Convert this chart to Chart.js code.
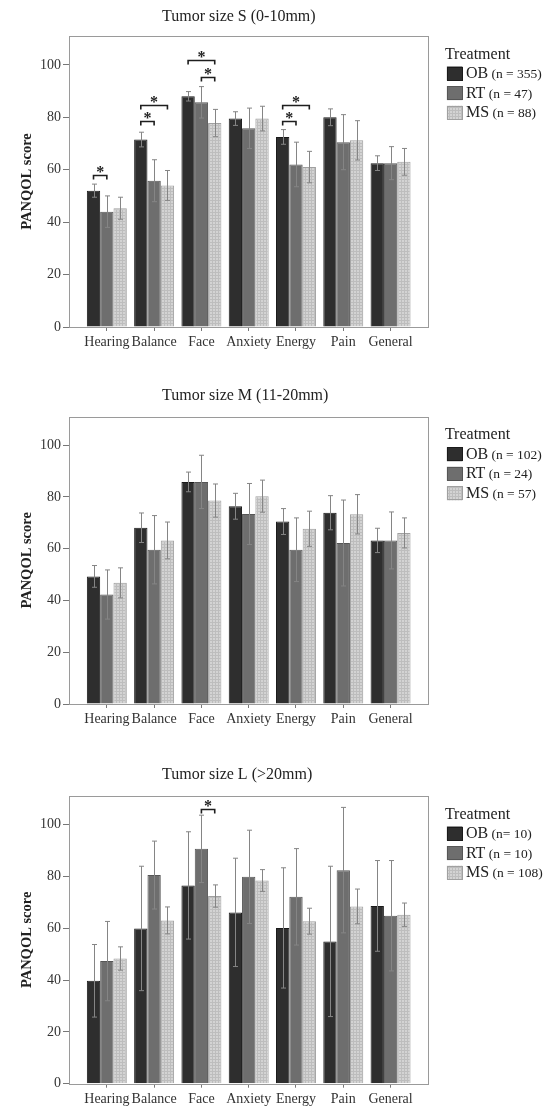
<!DOCTYPE html>
<html><head><meta charset="utf-8">
<script src="https://cdn.jsdelivr.net/npm/chart.js@4/dist/chart.umd.min.js"></script>
<style>
html,body{margin:0;padding:0;background:#fff;}
#wrap{position:relative;width:547px;height:1108px;overflow:hidden;}
canvas{position:absolute;left:0;}
</style></head><body>
<div id="wrap">
<canvas id="cS" width="547" height="360" style="top:0px"></canvas>
<canvas id="cM" width="547" height="360" style="top:380px"></canvas>
<canvas id="cL" width="547" height="348" style="top:760px"></canvas>
</div>
<script>
// ---------- data ----------
const categories = ['Hearing', 'Balance', 'Face', 'Anxiety', 'Energy', 'Pain', 'General'];
const seriesNames = ['OB', 'RT', 'MS'];
const yTicks = [0, 20, 40, 60, 80, 100];

// Tumor size S (0-10mm)
const titleS = 'Tumor size S (0-10mm)';
const nS = ['(n = 355)', '(n = 47)', '(n = 88)'];
const obS = [52, 71.5, 88, 79.5, 72.5, 80, 62.5];
const obSErr = [2.5, 2.8, 1.8, 2.6, 2.8, 3.2, 2.8];
const rtS = [44, 55.8, 85.7, 75.8, 62, 70.5, 62.5];
const rtSErr = [6, 8, 6, 7.7, 8.5, 10.5, 6.3];
const msS = [45.3, 54, 77.8, 79.5, 61, 71.2, 63];
const msSErr = [4.2, 5.7, 5.2, 4.7, 6, 7.5, 5.1];
// significance brackets: [category index, series a, series b, bracket height]
const sigS = [[0, 0, 1, 57.9], [1, 0, 1, 78.5], [1, 0, 2, 84.8], [2, 0, 2, 101.9], [2, 1, 2, 95.5], [4, 0, 1, 78.5], [4, 0, 2, 84.8]];

// Tumor size M (11-20mm)
const titleM = 'Tumor size M (11-20mm)';
const nM = ['(n = 102)', '(n = 24)', '(n = 57)'];
const obM = [49.3, 68.1, 85.8, 76.4, 70.5, 73.9, 63.2];
const obMErr = [4.2, 5.7, 3.8, 5, 5, 6.6, 4.7];
const rtM = [42.3, 59.6, 85.8, 73.4, 59.6, 62.2, 63.2];
const rtMErr = [9.5, 13.2, 10.3, 11.8, 12.3, 16.6, 11];
const msM = [46.8, 63.2, 78.6, 80.3, 67.7, 73.3, 66.1];
const msMErr = [5.8, 7.1, 6.4, 6.2, 6.8, 7.6, 5.8];
const sigM = [];

// Tumor size L (>20mm)
const titleL = 'Tumor size L (>20mm)';
const nL = ['(n= 10)', '(n = 10)', '(n = 108)'];
const obL = [39.7, 59.9, 76.5, 66.1, 60.1, 54.9, 68.6];
const obLErr = [14, 24, 20.7, 20.9, 23.2, 29, 17.5];
const rtL = [47.3, 80.5, 90.6, 79.8, 72.1, 82.4, 64.8];
const rtLErr = [15.3, 13.1, 13, 18, 18.6, 24.2, 21.3];
const msL = [48.3, 63, 72.4, 78.4, 62.7, 68.4, 65.2];
const msLErr = [4.5, 5.2, 4.3, 4.2, 5, 6.7, 4.5];
const sigL = [[2, 1, 2, 105.8]];

// ---------- drawing ----------
const FONT = '"Liberation Serif", "Times New Roman", serif';

function makePattern(ctx) {
  const t = document.createElement('canvas');
  t.width = 3; t.height = 3;
  const g = t.getContext('2d');
  g.fillStyle = '#d3d3d3'; g.fillRect(0, 0, 3, 3);
  g.fillStyle = '#bdbdbd'; g.fillRect(0, 2, 3, 1); g.fillRect(2, 0, 1, 3);
  return ctx.createPattern(t, 'repeat');
}

const decorPlugin = {
  id: 'decor',
  afterDatasetsDraw(chart, args, opts) {
    const ctx = chart.ctx, ca = chart.chartArea, ys = chart.scales.y;
    ctx.save();
    // error bars
    chart.data.datasets.forEach((ds, di) => {
      const meta = chart.getDatasetMeta(di);
      meta.data.forEach((bar, i) => {
        const v = ds.data[i].y, e = ds.errors[i];
        const x = Math.round(bar.x) + 0.5;
        const yt = ys.getPixelForValue(v + e), yb = ys.getPixelForValue(v - e);
        ctx.strokeStyle = '#858585'; ctx.lineWidth = 1;
        ctx.beginPath();
        ctx.moveTo(x, yt); ctx.lineTo(x, yb);
        ctx.moveTo(x - 2.5, yt); ctx.lineTo(x + 2.5, yt);
        ctx.moveTo(x - 2.5, yb); ctx.lineTo(x + 2.5, yb);
        ctx.stroke();
      });
    });
    // frame
    ctx.strokeStyle = '#9a9a9a'; ctx.lineWidth = 1;
    ctx.strokeRect(Math.round(ca.left) + 0.5, Math.round(ca.top) + 0.5,
                   Math.round(ca.right) - Math.round(ca.left), Math.round(ca.bottom) - Math.round(ca.top));
    // significance brackets
    (opts.sig || []).forEach(s => {
      const xa = chart.getDatasetMeta(s[1]).data[s[0]].x;
      const xb = chart.getDatasetMeta(s[2]).data[s[0]].x;
      const yy = Math.round(ys.getPixelForValue(s[3])) + 0.5;
      ctx.strokeStyle = '#1e1e1e'; ctx.lineWidth = 1.6;
      ctx.beginPath();
      ctx.moveTo(xa, yy + 4); ctx.lineTo(xa, yy); ctx.lineTo(xb, yy); ctx.lineTo(xb, yy + 4);
      ctx.stroke();
      ctx.fillStyle = '#1e1e1e';
      ctx.font = 'bold 16px ' + FONT;
      ctx.textAlign = 'center'; ctx.textBaseline = 'alphabetic';
      ctx.fillText('*', (xa + xb) / 2, yy + 1);
    });
    // panel title
    ctx.fillStyle = '#222';
    ctx.font = '16px ' + FONT;
    ctx.textAlign = 'left'; ctx.textBaseline = 'alphabetic';
    ctx.fillText(opts.title, ca.left + 93, ca.top - opts.titleGap);
    // legend
    const lx = ca.right;
    ctx.fillText('Treatment', lx + 16.5, ca.top + 22.5);
    chart.data.datasets.forEach((ds, i) => {
      const cy = ca.top + 37.5 + i * 19.6;
      ctx.fillStyle = ds.backgroundColor;
      ctx.fillRect(lx + 18.5, cy - 7, 15.5, 14);
      ctx.strokeStyle = ds.borderColor; ctx.lineWidth = 1;
      ctx.strokeRect(Math.round(lx + 18.5) + 0.5, Math.round(cy - 7) + 0.5, 15, 13);
      ctx.fillStyle = '#222';
      ctx.font = '16px ' + FONT;
      ctx.fillText(ds.label, lx + 37.5, cy + 4.6);
      const w = ctx.measureText(ds.label).width;
      ctx.font = '13.5px ' + FONT;
      ctx.fillText(' ' + opts.nText[i], lx + 37.5 + w, cy + 4.6);
    });
    ctx.restore();
  }
};

function build(id, title, titleGap, nText, ob, obE, rt, rtE, ms, msE, sig, padTop, padBottom, xAxisH) {
  const canvas = document.getElementById(id);
  const ctx = canvas.getContext('2d');
  const pattern = makePattern(ctx);
  const mk = arr => arr.map((v, i) => ({x: i, y: v}));
  return new Chart(ctx, {
    type: 'bar',
    data: {
      datasets: [
        {label: seriesNames[0], data: mk(ob), errors: obE, backgroundColor: '#2e2e2e', borderColor: '#1a1a1a', borderWidth: 1},
        {label: seriesNames[1], data: mk(rt), errors: rtE, backgroundColor: '#6e6e6e', borderColor: '#565656', borderWidth: 1},
        {label: seriesNames[2], data: mk(ms), errors: msE, backgroundColor: pattern, borderColor: '#a0a0a0', borderWidth: 1}
      ]
    },
    options: {
      responsive: false,
      animation: false,
      devicePixelRatio: 1,
      datasets: {bar: {categoryPercentage: 0.845, barPercentage: 1}},
      layout: {padding: {top: padTop, right: 118.6, bottom: padBottom, left: 0}},
      plugins: {
        legend: {display: false},
        tooltip: {enabled: false},
        title: {display: false},
        decor: {title: title, titleGap: titleGap, nText: nText, sig: sig}
      },
      scales: {
        x: {
          type: 'linear', min: -0.8, max: 6.8, offset: false,
          afterBuildTicks: s => { s.ticks = categories.map((c, i) => ({value: i})); },
          afterFit: s => { s.height = xAxisH; },
          ticks: {
            callback: v => categories[v], autoSkip: false, maxRotation: 0, padding: 3,
            color: '#333', font: {family: FONT, size: 14}
          },
          grid: {offset: false, drawOnChartArea: false, drawTicks: true, tickLength: 4, color: '#777'},
          border: {display: false}
        },
        y: {
          min: 0, max: 111,
          afterBuildTicks: s => { s.ticks = yTicks.map(v => ({value: v})); },
          afterFit: s => { s.width = 69; },
          ticks: {padding: 2, color: '#333', font: {family: FONT, size: 14}},
          grid: {drawOnChartArea: false, drawTicks: true, tickLength: 6, color: '#777'},
          border: {display: false},
          title: {
            display: true, text: 'PANQOL score', color: '#222',
            font: {family: FONT, size: 14.5, weight: 'bold'},
            padding: {top: 19, bottom: 0}
          }
        }
      }
    },
    plugins: [decorPlugin]
  });
}

build('cS', titleS, 15, nS, obS, obSErr, rtS, rtSErr, msS, msSErr, sigS, 36, 7, 26);
build('cM', titleM, 17, nM, obM, obMErr, rtM, rtMErr, msM, msMErr, sigM, 36.7, 10, 26);
build('cL', titleL, 17, nL, obL, obLErr, rtL, rtLErr, msL, msLErr, sigL, 36, 0, 24.3);
</script>
</body></html>
